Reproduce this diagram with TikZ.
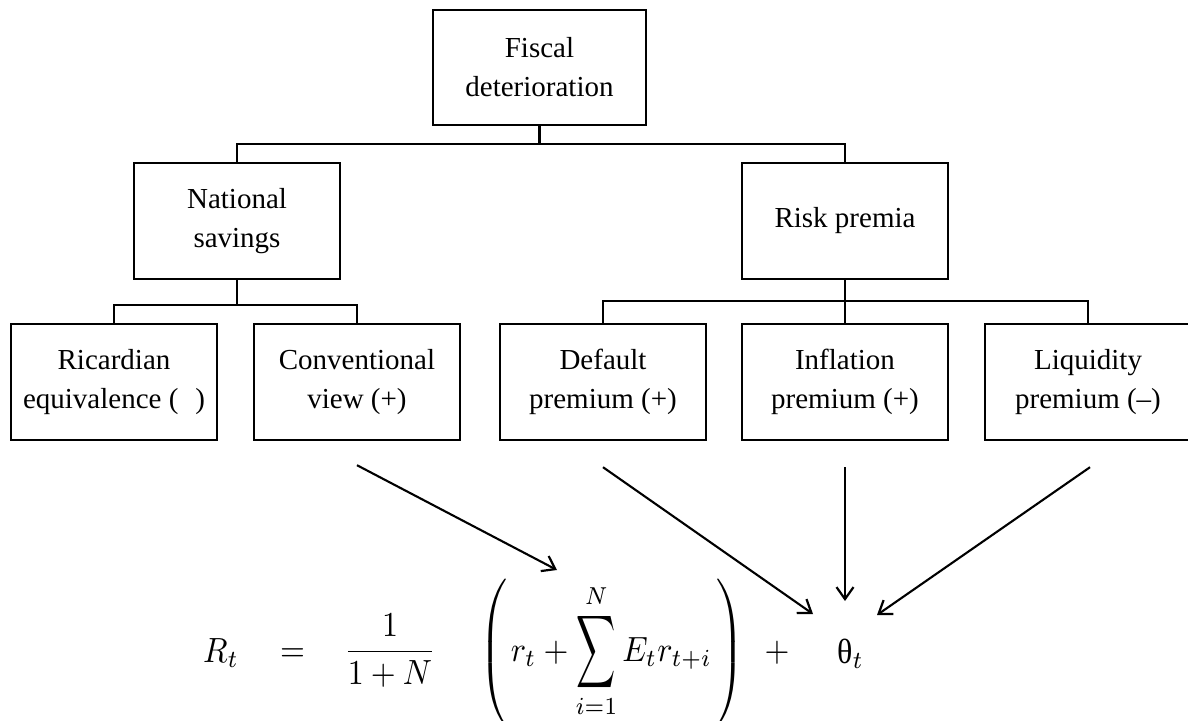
\documentclass[tikz,border=0pt]{standalone}
\usepackage{amsmath}
\usepackage{graphicx}
\usepackage{fontspec}
\setmainfont{Liberation Serif}
\usetikzlibrary{arrows.meta}
\newcommand{\mysum}{\mathop{\vcenter{\hbox{\scalebox{0.85}[1.45]{$\displaystyle\sum$}}}}\limits}
\newcommand{\eqs}[1]{\scalebox{3.2}[3.5]{#1}}
\tikzset{
  box/.style={draw, line width=2.4pt, minimum width=206pt, minimum height=116pt,
    align=center, inner sep=0pt, font=\fontsize{29}{39}\selectfont},
  tree/.style={line width=2.4pt},
  arr/.style={line width=2.1pt, -{Straight Barb[length=12pt,width=17pt,line width=2.2pt]}},
  eqn/.style={inner sep=0pt, font=\fontsize{10}{12}\selectfont}
}
\begin{document}
\begin{tikzpicture}[x=1pt,y=-1pt]
\useasboundingbox (0,0) rectangle (1188,720);
% boxes
\node[box, minimum width=213pt, minimum height=115pt] (fis) at (539.5,67.5) {Fiscal\\deterioration};
\node[box] (nat) at (237,221) {National\\savings};
\node[box] (risk) at (845,221) {Risk premia};
\node[box] (ric) at (114,382) {Ricardian\\equivalence (\,\, )};
\node[box] (conv) at (357,382) {Conventional\\view (+)};
\node[box] (def) at (603,382) {Default\\premium (+)};
\node[box] (inf) at (845,382) {Inflation\\premium (+)};
\node[box] (liq) at (1088,382) {Liquidity\\premium (–)};
% tree connectors
\draw[tree] (fis.south) -- ++(0,18) coordinate (j1);
\draw[tree] (nat.north) |- (j1) -| (risk.north);
\draw[tree] (nat.south) -- ++(0,25) coordinate (j2);
\draw[tree] (ric.north) |- (j2) -| (conv.north);
\draw[tree] (risk.south) -- (inf.north);
\draw[tree] (def.north) |- ([yshift=22pt]inf.north) -| (liq.north);
% formula
\node[eqn, anchor=base west] (Rt) at (203,662) {\eqs{$R_t$}};
\node[eqn, anchor=base west] (eq) at (280,661) {\eqs{$=$}};
\node[eqn, anchor=base] (frac) at (390,660) {\eqs{$\displaystyle\frac{1}{1+N}$}};
\node[eqn, anchor=base west] (grp) at (479,661) {\eqs{$\displaystyle\left(\vphantom{\rule{0pt}{23pt}\rule[-19pt]{0pt}{1pt}}\mskip2mu r_t + \mysum_{i=1}^{N} E_t r_{t+i}\mskip3mu\right)$}};
\node[eqn, anchor=base] (pl) at (777,661) {\eqs{$+$}};
\node[eqn, anchor=base west] (th) at (837,663) {\eqs{$\mbox{θ}_t$}};
% arrow targets
\coordinate (tA) at (557,570);
\coordinate (tB) at (813,614);
\coordinate (tC) at (845,601);
\coordinate (tD) at (877,615);
\draw[arr] ([yshift=-24pt]conv.south) -- (tA);
\draw[arr] ([yshift=-26pt]def.south) -- (tB);
\draw[arr] ([yshift=-26pt]inf.south) -- (tC);
\draw[arr] ([yshift=-26pt,xshift=2pt]liq.south) -- (tD);
\end{tikzpicture}
\end{document}
